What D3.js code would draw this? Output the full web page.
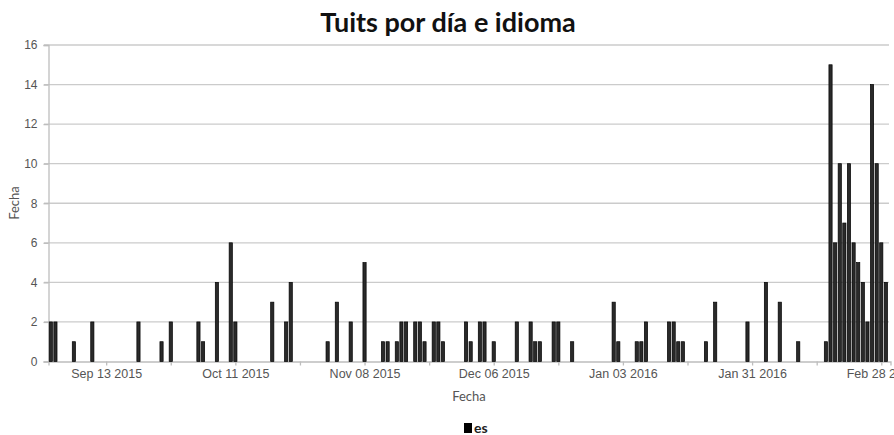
<!DOCTYPE html>
<html>
<head>
<meta charset="utf-8">
<script src="https://cdn.jsdelivr.net/npm/d3@7"></script>
<style>
  body { margin: 0; background: #fff; }
  svg { font-family: Lato, "Open Sans", sans-serif; display: block; }
</style>
</head>
<body>
<svg id="chart" width="894" height="435"></svg>
<script>
// tuits en español por día
const fechas = [
  '2015-09-01','2015-09-02','2015-09-06','2015-09-10','2015-09-20','2015-09-25','2015-09-27',
  '2015-10-03','2015-10-04','2015-10-07','2015-10-10','2015-10-11','2015-10-19','2015-10-22','2015-10-23','2015-10-31',
  '2015-11-02','2015-11-05','2015-11-08','2015-11-12','2015-11-13','2015-11-15','2015-11-16','2015-11-17',
  '2015-11-19','2015-11-20','2015-11-21','2015-11-23','2015-11-24','2015-11-25','2015-11-30',
  '2015-12-01','2015-12-03','2015-12-04','2015-12-06','2015-12-11','2015-12-14','2015-12-15','2015-12-16',
  '2015-12-19','2015-12-20','2015-12-23',
  '2016-01-01','2016-01-02','2016-01-06','2016-01-07','2016-01-08','2016-01-13','2016-01-14','2016-01-15',
  '2016-01-16','2016-01-21','2016-01-23','2016-01-30',
  '2016-02-03','2016-02-06','2016-02-10','2016-02-16','2016-02-17','2016-02-18','2016-02-19','2016-02-20',
  '2016-02-21','2016-02-22','2016-02-23','2016-02-24','2016-02-25','2016-02-26','2016-02-27','2016-02-28','2016-02-29'
]
const tuits = [
  2,2,1,2,2,1,2,
  2,1,4,6,2,3,2,4,1,
  3,2,5,1,1,1,2,2,
  2,2,1,2,2,1,2,
  1,2,2,1,2,2,1,1,
  2,2,1,
  3,1,1,1,2,2,2,1,
  1,1,3,2,
  4,3,1,1,15,6,10,7,
  10,6,5,4,2,14,10,6,4
]
const yTicks = [0, 2, 4, 6, 8, 10, 12, 14, 16]
const serie = 'es'

const parse = d3.timeParse('%Y-%m-%d')
const data = fechas.map((f, i) => ({fecha: parse(f), n: tuits[i]}))

const svg = d3.select('#chart')
const x = d3.scaleTime()
  .domain([new Date(2015, 7, 31, 12), new Date(2016, 2, 1)])
  .range([48.5, 890.5])
const y = d3.scaleLinear().domain([0, 16]).range([361.5, 45])

// grid
svg.append('g')
  .selectAll('line')
  .data(yTicks.slice(1))
  .enter().append('line')
  .attr('x1', 44).attr('x2', 889)
  .attr('y1', d => y(d)).attr('y2', d => y(d))
  .attr('stroke', '#cbcbcb')
  .attr('stroke-width', 1.3)

// y axis
const yAxis = svg.append('g')
  .attr('transform', 'translate(48.5,0)')
  .call(d3.axisLeft(y).tickValues(yTicks).tickSize(5).tickPadding(6))
yAxis.select('.domain').attr('stroke', '#bdbdbd').attr('stroke-width', 1.3)
yAxis.selectAll('.tick line').attr('stroke', '#bdbdbd').attr('stroke-width', 1.3)
yAxis.selectAll('text').attr('fill', '#555').style('font-size', '12px')

// x axis
const xTicks = d3.timeDay.range(new Date(2015, 8, 13), new Date(2016, 2, 1), 14)
const fmt = d3.timeFormat('%b %d %Y')
const xAxis = svg.append('g')
  .attr('transform', 'translate(0,361.5)')
  .call(d3.axisBottom(x).tickValues(xTicks).tickSize(4).tickPadding(4)
    .tickFormat((d, i) => i % 2 === 0 ? fmt(d) : ''))
xAxis.select('.domain').attr('stroke', '#bdbdbd').attr('stroke-width', 1.3)
xAxis.selectAll('.tick line').attr('stroke', '#bdbdbd').attr('stroke-width', 1.3)
xAxis.selectAll('text').attr('fill', '#555').style('font-size', '12.5px')

// bars
svg.append('g')
  .selectAll('rect')
  .data(data)
  .enter().append('rect')
  .attr('x', d => x(d.fecha) - 1.6)
  .attr('width', 3.2)
  .attr('y', d => y(d.n))
  .attr('height', d => y(0) - y(d.n))
  .attr('fill', '#2a2a2a')
  .attr('stroke', '#000')
  .attr('stroke-width', 0.7)

// titles
svg.append('text')
  .attr('x', 448).attr('y', 32)
  .attr('text-anchor', 'middle')
  .style('font-size', '27px').style('font-weight', 'bold')
  .attr('fill', '#111')
  .text('Tuits por día e idioma')

svg.append('text')
  .attr('x', 469).attr('y', 401)
  .attr('text-anchor', 'middle')
  .style('font-size', '13px').attr('fill', '#555')
  .text('Fecha')

svg.append('text')
  .attr('transform', 'translate(19,203) rotate(-90)')
  .attr('text-anchor', 'middle')
  .style('font-size', '13px').attr('fill', '#555')
  .text('Fecha')

// legend
svg.append('rect')
  .attr('x', 464).attr('y', 423).attr('width', 8).attr('height', 10)
  .attr('fill', '#000')
svg.append('text')
  .attr('x', 474).attr('y', 433)
  .style('font-size', '14px').style('font-weight', 'bold')
  .attr('fill', '#222')
  .text(serie)
</script>
</body>
</html>
